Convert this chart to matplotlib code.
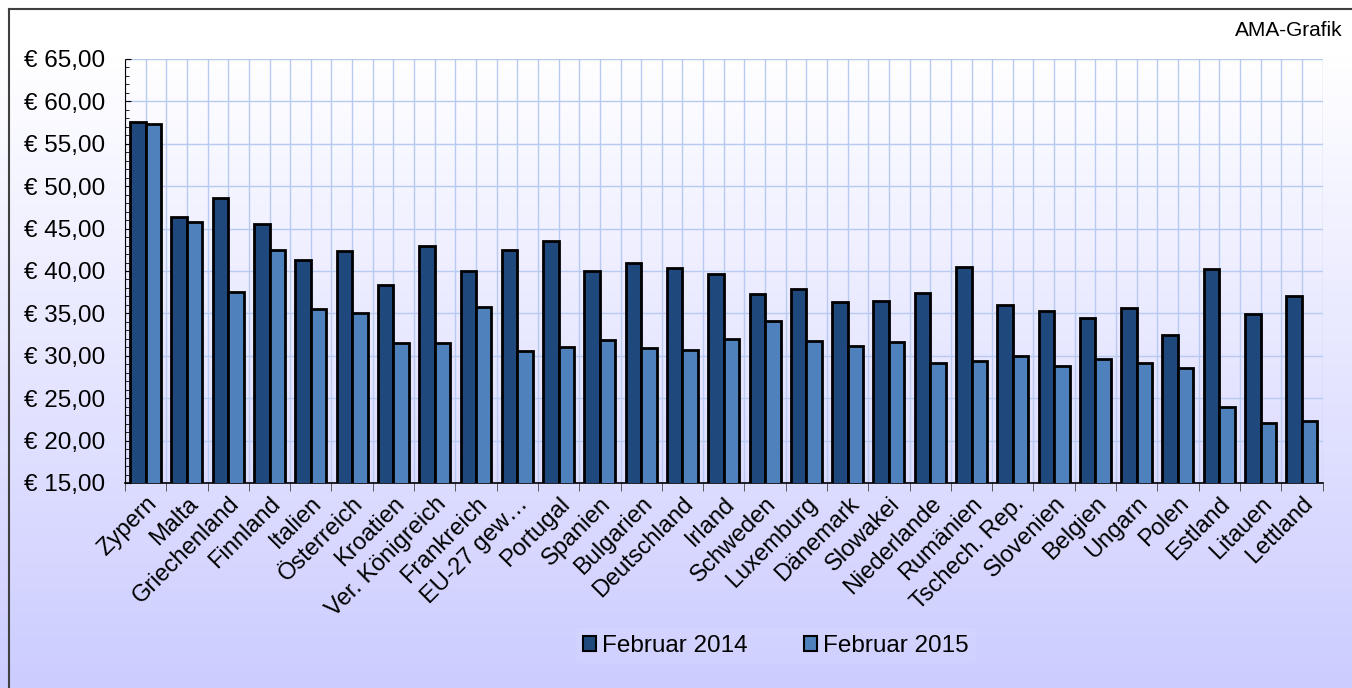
import numpy as np
import matplotlib
matplotlib.use("Agg")
import matplotlib.pyplot as plt
from matplotlib.ticker import MultipleLocator, FixedLocator, FuncFormatter
from matplotlib.colors import LinearSegmentedColormap

plt.rcParams['font.family'] = ['Liberation Sans', 'DejaVu Sans']

countries = ["Zypern", "Malta", "Griechenland", "Finnland", "Italien", "Österreich",
             "Kroatien", "Ver. Königreich", "Frankreich", "EU-27 gew…", "Portugal",
             "Spanien", "Bulgarien", "Deutschland", "Irland", "Schweden", "Luxemburg",
             "Dänemark", "Slowakei", "Niederlande", "Rumänien", "Tschech. Rep.",
             "Slovenien", "Belgien", "Ungarn", "Polen", "Estland", "Litauen", "Lettland"]
feb2014 = [57.6, 46.4, 48.6, 45.5, 41.3, 42.3, 38.3, 43.0, 40.0, 42.5, 43.5,
           40.0, 41.0, 40.4, 39.6, 37.3, 37.9, 36.4, 36.5, 37.4, 40.5, 36.0,
           35.3, 34.5, 35.6, 32.4, 40.2, 34.9, 37.1]
feb2015 = [57.3, 45.8, 37.5, 42.5, 35.5, 35.0, 31.5, 31.5, 35.7, 30.6, 31.0,
           31.9, 30.9, 30.7, 32.0, 34.1, 31.8, 31.2, 31.6, 29.2, 29.4, 30.0,
           28.8, 29.6, 29.1, 28.6, 24.0, 22.1, 22.3]
series_names = ["Februar 2014", "Februar 2015"]

W, H = 1352, 688
fig = plt.figure(figsize=(W / 100, H / 100), dpi=100)

# background gradient
bg = fig.add_axes([0, 0, 1, 1], zorder=-10)
cmap = LinearSegmentedColormap.from_list("bg", [(0.0, "#ffffff"), (0.08, "#ffffff"),
                                                (1.0, "#ccccff")], N=256)
grad = np.linspace(0, 1, 256).reshape(-1, 1)
bg.imshow(grad, aspect='auto', cmap=cmap, extent=[0, 1, 0, 1], origin='upper')
bg.set_xlim(0, 1)
bg.set_ylim(0, 1)
bg.axis('off')
# border lines (top and left)
bg.plot([9 / W, 1], [1 - 9 / H, 1 - 9 / H], color='#404040', lw=1.5)
bg.plot([9 / W, 9 / W], [0, 1 - 9 / H], color='#404040', lw=1.5)

ax = fig.add_axes([125 / W, 1 - 483 / H, (1322.5 - 125) / W, (483 - 59) / H])
ax.patch.set_alpha(0)

x = np.arange(len(countries))
bw = 0.375
ax.bar(x - bw / 2, feb2014, width=bw, color='#1f497d', edgecolor='black',
       linewidth=2, label=series_names[0], zorder=3)
ax.bar(x + bw / 2, feb2015, width=bw, color='#4f81bd', edgecolor='black',
       linewidth=2, label=series_names[1], zorder=3)

ax.set_xlim(-0.5, len(countries) - 0.5)
ax.set_ylim(15, 65)

ax.yaxis.set_major_locator(MultipleLocator(5))
ax.yaxis.set_minor_locator(MultipleLocator(1))
ax.yaxis.set_major_formatter(FuncFormatter(lambda v, p: "€ " + f"{v:.2f}".replace('.', ',')))
ax.tick_params(axis='y', which='major', direction='in', length=4, labelsize=17.5, pad=14,
               color='black')
ax.tick_params(axis='y', which='minor', direction='in', length=3, color='black')

ax.set_xticks(x)
ax.set_xticklabels(countries, rotation=45, ha='right', va='top', rotation_mode='anchor',
                   fontsize=17)
ax.xaxis.set_minor_locator(FixedLocator(np.arange(-0.5, len(countries), 1.0)))
ax.tick_params(axis='x', which='major', length=0, pad=7)
ax.tick_params(axis='x', which='minor', length=6, direction='out', color='#404040')

# grid: vertical every half category, horizontal every 5
for xv in np.arange(-0.5, len(countries), 0.5):
    ax.axvline(xv, color='#b8caf0', lw=1, zorder=0)
ax.yaxis.grid(True, which='major', color='#b8caf0', lw=1, zorder=0)
ax.set_axisbelow(True)

for s in ['top', 'right']:
    ax.spines[s].set_visible(False)
ax.spines['left'].set_linestyle((0, (1, 1)))
ax.spines['left'].set_color('black')
ax.spines['bottom'].set_color('black')
ax.spines['bottom'].set_linewidth(1.2)

leg = fig.legend(loc='center', bbox_to_anchor=(776 / W, 1 - 646 / H), ncol=2,
                 fontsize=17.5, frameon=True, handlelength=0.55, handleheight=0.55,
                 handletextpad=0.25, columnspacing=2.3, borderpad=0.3)
leg.get_frame().set_facecolor('white')
leg.get_frame().set_alpha(0.07)
leg.get_frame().set_edgecolor('none')
for h in leg.legend_handles:
    h.set_linewidth(1.5)

fig.text(1343 / W, 1 - 31 / H, "AMA-Grafik", ha='right', va='center', fontsize=15)

fig.savefig("out.png", dpi=100)
